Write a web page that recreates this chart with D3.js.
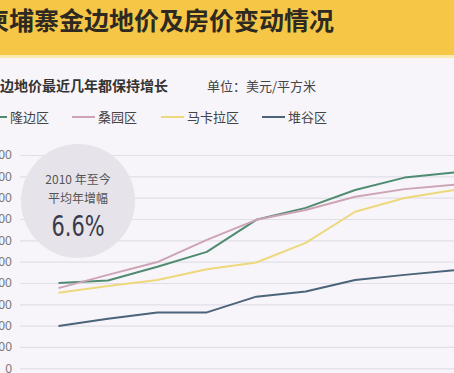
<!DOCTYPE html>
<html>
<head>
<meta charset="utf-8">
<script src="https://cdn.jsdelivr.net/npm/d3@7"></script>
<style>
  html,body{margin:0;padding:0;background:#f7f5fa;overflow:hidden;}
  svg{display:block;font-family:"Noto Sans CJK SC","Noto Sans",sans-serif;}
</style>
</head>
<body>
<script>
// 年份（横轴，图中未显示标签）
let years=[2010,2011,2012,2013,2014,2015,2016,2017,2018];
// 各区地价 美元/平方米
let longbian=[2000,2060,2380,2730,3480,3760,4180,4470,4590];
let sangyuan=[1880,2190,2490,3010,3480,3710,4020,4200,4300];
let makala=[1770,1930,2070,2320,2480,2940,3670,3990,4180];
let duigu=[990,1160,1310,1310,1680,1800,2070,2190,2300];
let seriesNames=['隆边区','桑园区','马卡拉区','堆谷区'];
let yTicks=[0,500,1000,1500,2000,2500,3000,3500,4000,4500,5000];

let W=454,H=373;
let colors=['#4f8b70','#cda3b6','#eed87c','#4b6479'];
let data=[longbian,sangyuan,makala,duigu];

let svg=d3.select('body').append('svg').attr('width',W).attr('height',H);

// 顶部黄色标题条
svg.append('rect').attr('x',0).attr('y',0).attr('width',W).attr('height',55).attr('fill','#f6c746');
svg.append('rect').attr('x',0).attr('y',55).attr('width',W).attr('height',3).attr('fill','#faeab0');
svg.append('text').attr('x',-16).attr('y',30)
    .attr('font-size',25).attr('font-weight','bold').attr('fill','#2e2a22')
    .text('柬埔寨金边地价及房价变动情况');

svg.append('text').attr('x',-14).attr('y',91)
    .attr('font-size',14).attr('font-weight','bold').attr('fill','#333')
    .text('金边地价最近几年都保持增长');
svg.append('text').attr('x',207).attr('y',91)
    .attr('font-size',13).attr('fill','#444')
    .text('单位：美元/平方米');

// 图例
let legendX=[-16,72,161,262];
let lg=svg.append('g').selectAll('g').data(seriesNames).enter().append('g')
    .attr('transform',(d,i)=>'translate('+legendX[i]+',117)');
lg.append('line').attr('x1',0).attr('x2',23).attr('y1',0).attr('y2',0)
    .attr('stroke',(d,i)=>colors[i]).attr('stroke-width',2);
lg.append('text').attr('x',26).attr('y',5).attr('font-size',13).attr('fill','#444').text(d=>d);

let x=d3.scalePoint().domain(years).range([58.5,454]);
let y=d3.scaleLinear().domain([0,5000]).range([368.3,155]);

// 网格和纵轴
let yAxis=d3.axisLeft(y).tickValues(yTicks).tickSize(-(W-20)).tickPadding(8);
let ga=svg.append('g').attr('transform','translate(20,0)').call(yAxis);
ga.select('.domain').remove();
ga.selectAll('line').attr('stroke','#e1dfe6').attr('stroke-width',1.2);
ga.selectAll('text').attr('font-size',12).attr('fill','#777')
    .attr('font-family','"Noto Sans","DejaVu Sans",sans-serif');

// 圆形注释
svg.append('circle').attr('cx',78).attr('cy',201).attr('r',57).attr('fill','#e6e4ea');
svg.append('text').attr('x',78).attr('y',184).attr('text-anchor','middle')
    .attr('font-size',12).attr('fill','#555').text('2010 年至今');
svg.append('text').attr('x',78).attr('y',203).attr('text-anchor','middle')
    .attr('font-size',12).attr('fill','#555').text('平均年增幅');
svg.append('text').attr('x',78).attr('y',236).attr('text-anchor','middle')
    .attr('font-size',29).attr('fill','#3a3a48')
    .attr('font-family','"Liberation Sans Narrow","DejaVu Sans Condensed",sans-serif')
    .attr('transform','translate(78,236) scale(0.8,1) translate(-78,-236)')
    .text('6.6%');

// 折线
let line=d3.line().x((d,i)=>x(years[i])).y(d=>y(d));
svg.append('g').selectAll('path').data(data).enter().append('path')
    .attr('d',d=>line(d)).attr('fill','none')
    .attr('stroke',(d,i)=>colors[i]).attr('stroke-width',2)
    .attr('stroke-linejoin','round');
</script>
</body>
</html>
